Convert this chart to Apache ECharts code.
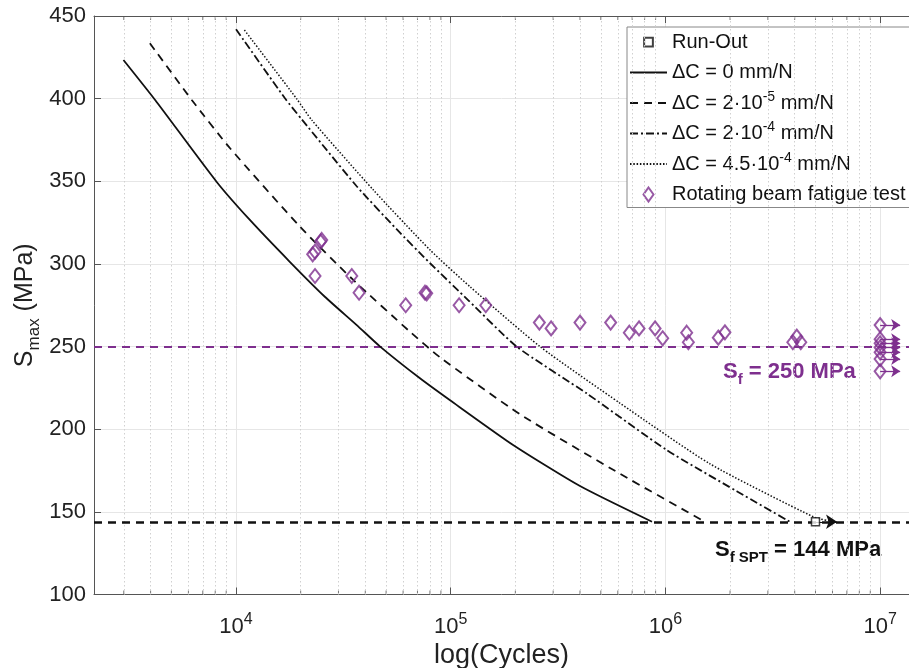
<!DOCTYPE html>
<html><head><meta charset="utf-8">
<script src="https://cdn.jsdelivr.net/npm/echarts@6/dist/echarts.min.js"></script>
<style>html,body{margin:0;padding:0;background:#fff}#c{width:909px;height:668px}</style>
</head><body><div id="c"></div>
<script>
// ---- axis ranges & ticks ----
const xMin = 2180, xMax = 13630000;
const yMin = 100, yMax = 450, yStep = 50;
const xMinorTicks = [3e3,4e3,5e3,6e3,7e3,8e3,9e3,2e4,3e4,4e4,5e4,6e4,7e4,8e4,9e4,2e5,3e5,4e5,5e5,6e5,7e5,8e5,9e5,2e6,3e6,4e6,5e6,6e6,7e6,8e6,9e6];

// ---- S-N curves (cycles, MPa) ----
const dc0N = [2990, 4200, 8130, 11600, 17800, 26000, 36500, 46900, 71900, 99300, 196000, 400000, 866000];
const dc0S = [423.4, 399.2, 349.6, 326.6, 301.3, 280, 263, 250, 230.8, 217.5, 190.3, 165.6, 144];

const dc1N = [3970, 6220, 9380, 19860, 35160, 64570, 89130, 210400, 615200, 1528000];
const dc1S = [433.5, 399.2, 370, 322.5, 290.3, 259, 243.5, 209, 173, 144];

const dc2N = [10000, 16900, 20230, 36480, 55980, 80170, 120800, 202800, 429500, 1014000, 2148000, 3802000];
const dc2S = [442, 400.2, 387.5, 347, 321, 300.4, 278, 250, 221.7, 187.4, 162.5, 144];

const dc3N = [10940, 19190, 22540, 43650, 80170, 123000, 260600, 615200, 1614000, 4887000, 6039000];
const dc3S = [441.5, 399.8, 387, 344.7, 308.4, 286.2, 250, 215.7, 179, 147, 144];

// ---- run-out (small punch test) ----
const runOutN = [5000000];
const runOutS = [144];
const runOutArrowEndN = 6300000;

// ---- rotating beam fatigue tests ----
const testN = [22750, 23330, 24770, 25070, 23330, 34600, 37420, 61700, 75900, 77300, 109400, 145600,
  258700, 293400, 400000, 555700, 679000, 753600, 895000, 971000, 1256000, 1279000, 1763000, 1893000, 3920000, 4090000, 4270000];
const testS = [305.8, 307.4, 313.5, 314.5, 292.7, 292.7, 282.6, 275, 282.6, 282.2, 275, 275,
  264.5, 261, 264.5, 264.5, 258.4, 261, 261, 255, 258.4, 252.6, 255.4, 258.6, 252.6, 256, 252.6];
const testRunoutN = 10000000;
const testRunoutS = [263, 254.5, 252, 249.5, 246.5, 242.5, 235];
const testRunoutArrowEndN = 12400000;

// ---- fatigue limits ----
const sfSPT = 144;
const sf = 250;

const purple = '#7E2F8E';
const FONT = 'Liberation Sans';

function pairs(a, b) { return a.map((v, i) => [v, b[i]]); }
function isDecade(v) { const l = Math.log10(v); return Math.abs(l - Math.round(l)) < 1e-6; }

const chart = echarts.init(document.getElementById('c'));

const legendNames = {
  'Run-Out': 'Run-Out',
  'dc0': '\u0394C = 0 mm/N',
  'dc1': '\u0394C = 2\u00b710{sup|-5} mm/N',
  'dc2': '\u0394C = 2\u00b710{sup|-4} mm/N',
  'dc3': '\u0394C = 4.5\u00b710{sup|-4} mm/N',
  'test': 'Rotating beam fatigue test'
};

const curveCommon = { type: 'line', symbol: 'none', smooth: 0.2, z: 5 };

const option = {
  animation: false,
  backgroundColor: '#fff',
  grid: { left: 94, top: 16, right: 0, bottom: 73.5, containLabel: false, outerBoundsMode: 'none' },
  xAxis: [{
    type: 'log', min: xMin, max: xMax, logBase: 10,
    name: 'log(Cycles)', nameLocation: 'middle', nameGap: 48,
    nameTextStyle: { fontFamily: FONT, fontSize: 27, color: '#222' },
    axisLine: { show: true, lineStyle: { color: '#555', width: 1 } },
    axisTick: { show: true, inside: true, length: 7, lineStyle: { color: '#555' } },
    axisLabel: {
      margin: 17, fontFamily: FONT, fontSize: 22, color: '#222',
      showMinLabel: false, showMaxLabel: false,
      formatter: v => isDecade(v) ? '{b|10}{sup|' + Math.round(Math.log10(v)) + '}' : '',
      rich: {
        b: { fontFamily: FONT, fontSize: 22, color: '#222', lineHeight: 26, verticalAlign: 'bottom' },
        sup: { fontFamily: FONT, fontSize: 16, color: '#222', lineHeight: 16, verticalAlign: 'top' }
      }
    },
    splitLine: { show: true, lineStyle: { color: '#e6e6e6', width: 1 } }
  }, {
    type: 'log', min: xMin, max: xMax, logBase: 10, position: 'top',
    axisLine: { show: true, lineStyle: { color: '#555', width: 1 } },
    axisTick: { show: true, inside: true, length: 7, lineStyle: { color: '#555' } },
    axisLabel: { show: false },
    splitLine: { show: false }
  }],
  yAxis: {
    type: 'value', min: yMin, max: yMax, interval: yStep,
    name: '{s|S}{sub|max}{s| (MPa)}', nameLocation: 'middle', nameGap: 51, nameRotate: 90,
    nameMoveOverlap: false,
    nameTextStyle: {
      rich: {
        s: { fontFamily: FONT, fontSize: 25, color: '#222', lineHeight: 30, verticalAlign: 'top' },
        sub: { fontFamily: FONT, fontSize: 17, color: '#222', lineHeight: 17, verticalAlign: 'bottom' }
      }
    },
    axisLine: { show: true, lineStyle: { color: '#555', width: 1 } },
    axisTick: { show: true, inside: true, length: 7, lineStyle: { color: '#555' } },
    axisLabel: { margin: 8, fontFamily: FONT, fontSize: 22, color: '#222' },
    splitLine: { show: true, lineStyle: { color: '#e6e6e6', width: 1 } }
  },
  legend: {
    orient: 'vertical', left: 627, top: 27, right: 0,
    backgroundColor: '#fff', borderColor: '#888', borderWidth: 1,
    padding: [2, 6, 0, 2], itemGap: 4.5, itemWidth: 37, itemHeight: 14,
    symbolKeepAspect: true,
    data: [
      { name: 'Run-Out', icon: 'path://M-3,-3M13,13M0,0L10,0L10,10L0,10Z' },
      { name: 'dc0', itemStyle: { opacity: 0 } },
      { name: 'dc1', itemStyle: { opacity: 0 } },
      { name: 'dc2', itemStyle: { opacity: 0 } },
      { name: 'dc3', itemStyle: { opacity: 0 } },
      { name: 'test', icon: 'path://M5,0L10,7L5,14L0,7Z' }
    ],
    formatter: n => legendNames[n],
    textStyle: {
      fontFamily: FONT, fontSize: 20, color: '#111', lineHeight: 26,
      rich: {
        sup: { fontFamily: FONT, fontSize: 14, color: '#111', lineHeight: 14, verticalAlign: 'top' }
      }
    }
  },
  graphic: [
    {
      type: 'text', left: 723, top: 361, silent: true,
      style: {
        text: '{m|S}{s|f}{m| = 250 MPa}',
        rich: {
          m: { fontFamily: FONT, fontSize: 22, fontWeight: 'bold', fill: purple, lineHeight: 26, verticalAlign: 'top' },
          s: { fontFamily: FONT, fontSize: 15, fontWeight: 'bold', fill: purple, lineHeight: 15, verticalAlign: 'bottom' }
        }
      }
    },
    {
      type: 'text', left: 715, top: 539, silent: true,
      style: {
        text: '{m|S}{s|f SPT}{m| = 144 MPa}',
        rich: {
          m: { fontFamily: FONT, fontSize: 22, fontWeight: 'bold', fill: '#111', lineHeight: 26, verticalAlign: 'top' },
          s: { fontFamily: FONT, fontSize: 15, fontWeight: 'bold', fill: '#111', lineHeight: 15, verticalAlign: 'bottom' }
        }
      }
    }
  ],
  series: [
    {
      name: 'minorGrid', type: 'line', data: [[xMin, yMin]], symbol: 'none', silent: true, z: 1,
      lineStyle: { width: 0 },
      markLine: {
        silent: true, symbol: 'none', label: { show: false }, animation: false,
        lineStyle: { color: '#d0d0d0', type: [1.5, 2.5], width: 1 },
        data: xMinorTicks.map(v => ({ xAxis: v }))
      }
    },
    {
      name: 'minorTickB', type: 'scatter', data: xMinorTicks.map(v => [v, yMin]), silent: true, z: 3,
      symbol: 'rect', symbolSize: [1, 4], symbolOffset: [0, -2], itemStyle: { color: '#555' }
    },
    {
      name: 'minorTickT', type: 'scatter', data: xMinorTicks.map(v => [v, yMax]), silent: true, z: 3,
      symbol: 'rect', symbolSize: [1, 4], symbolOffset: [0, 2], itemStyle: { color: '#555' }
    },
    {
      name: 'limits', type: 'line', data: [[xMin, yMin]], symbol: 'none', silent: true, z: 4,
      lineStyle: { width: 0 },
      markLine: {
        silent: true, symbol: 'none', label: { show: false }, animation: false,
        data: [
          { yAxis: sfSPT, lineStyle: { color: '#111', type: [8, 6], width: 2.5 } },
          { yAxis: sf, lineStyle: { color: purple, type: [8, 6], width: 2 } }
        ]
      }
    },
    Object.assign({ name: 'dc0', data: pairs(dc0N, dc0S),
      lineStyle: { color: '#111', width: 1.8, type: 'solid' }, itemStyle: { color: '#111' } }, curveCommon),
    Object.assign({ name: 'dc1', data: pairs(dc1N, dc1S),
      lineStyle: { color: '#111', width: 1.8, type: [8, 6] }, itemStyle: { color: '#111' } }, curveCommon),
    Object.assign({ name: 'dc2', data: pairs(dc2N, dc2S),
      lineStyle: { color: '#111', width: 1.8, type: [8, 3, 2, 3] }, itemStyle: { color: '#111' } }, curveCommon),
    Object.assign({ name: 'dc3', data: pairs(dc3N, dc3S),
      lineStyle: { color: '#111', width: 1.5, type: [1.5, 1.8] }, itemStyle: { color: '#111' } }, curveCommon),
    {
      name: 'Run-Out', type: 'scatter', data: pairs(runOutN, runOutS), z: 7,
      symbol: 'rect', symbolSize: 8,
      itemStyle: { color: '#fff', borderColor: '#111', borderWidth: 1.5 },
      markLine: {
        silent: true, symbol: ['none', 'arrow'], symbolSize: 11, label: { show: false }, animation: false,
        lineStyle: { color: '#111', type: 'solid', width: 1 },
        data: runOutN.map((n, i) => [{ coord: [n, runOutS[i]] }, { coord: [runOutArrowEndN, runOutS[i]] }])
      }
    },
    {
      name: 'test', type: 'scatter', data: pairs(testN, testS).concat(testRunoutS.map(s => [testRunoutN, s])), z: 8,
      symbol: 'diamond', symbolSize: [11, 14],
      itemStyle: { color: 'rgba(255,255,255,0)', borderColor: purple, borderWidth: 2 },
      markLine: {
        silent: true, symbol: ['none', 'arrow'], symbolSize: 9, label: { show: false }, animation: false,
        lineStyle: { color: purple, type: 'solid', width: 1.3 },
        data: testRunoutS.map(s => [{ coord: [testRunoutN, s] }, { coord: [testRunoutArrowEndN, s] }])
      }
    }
  ]
};
chart.setOption(option);
</script>
</body></html>
